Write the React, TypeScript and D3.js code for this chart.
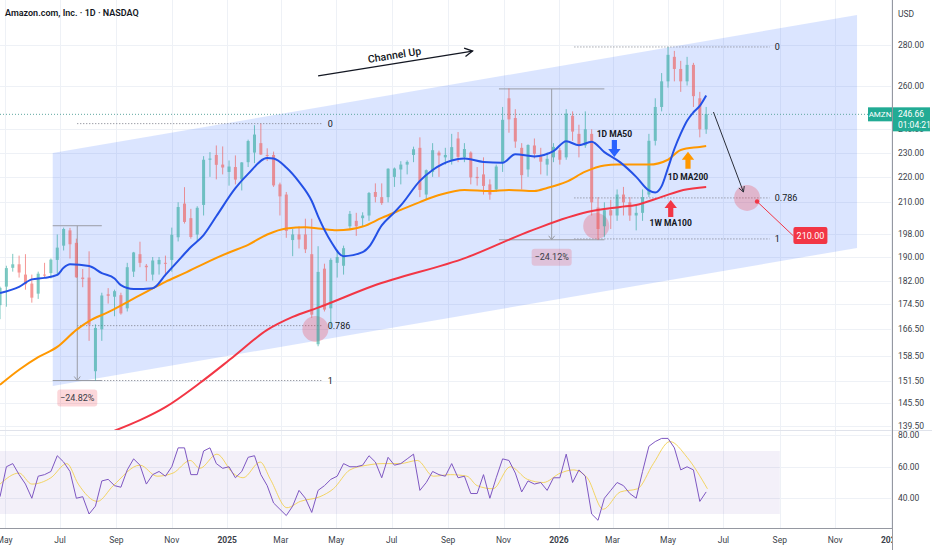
import React, { useEffect, useRef } from 'react';
import * as d3 from 'd3';

const FONT = 'Roboto, "Noto Sans", sans-serif';

// weekly candles, first week ends 2024-04-26
const firstWeek = '2024-04-26';
const opens = [
  174, 180, 186.3, 187.5, 184, 181, 177.7, 184, 184.5, 189,
  194, 199.5, 195, 183, 183, 154.2, 166.5, 177.5, 176.7, 177.2,
  173, 185, 191, 187, 184, 187.5, 188, 189, 197, 209.5,
  204, 198, 209, 227, 229, 225, 222, 224, 219, 226,
  230, 234, 229, 229, 217, 213, 196, 198, 198, 191,
  162, 186, 173, 188, 187, 201, 203, 204, 205, 214,
  212, 212, 220, 223, 225, 229, 232, 213, 222, 230,
  228, 227, 236, 228, 230, 220, 221, 217, 215, 226,
  254, 245, 232, 223, 233, 229, 225, 228, 231, 228,
  246, 238, 233, 238, 208, 201, 207, 205, 213, 210,
  205, 206, 213, 235, 250, 262, 274, 268, 262, 270,
  254, 240,
];
const highs = [
  180, 187, 191.1, 190.5, 191, 184, 185, 188, 189.5, 198,
  200.5, 200.4, 196.5, 185.9, 192, 168, 178, 179.5, 179, 178,
  188, 191.8, 195.4, 187.6, 190, 190, 190.5, 200.5, 210, 215.9,
  207.5, 208.5, 228.5, 230.2, 233, 232.6, 226.7, 228.8, 226, 235.5,
  241.8, 242.5, 231.8, 230.4, 217.7, 214, 200, 201, 203.8, 203.8,
  193.8, 187.7, 189.6, 192.5, 194, 206.7, 206, 206.2, 214, 217.4,
  217.4, 223.5, 223.8, 226.4, 226.7, 232.5, 236.5, 223, 234, 230.8,
  232, 238, 238.8, 234, 230.5, 224, 228, 219, 225, 250,
  258.6, 249, 234, 233.5, 236, 232, 230, 234, 232, 249,
  248, 242, 248, 240, 212, 210, 211, 215, 216, 212,
  209, 215, 238, 254, 266, 279, 277, 272, 274, 271,
  257, 250,
];
const lows = [
  169.6, 173.5, 185, 183, 179, 174.8, 176, 183, 182.7, 183.7,
  192.3, 189.5, 182.9, 179.8, 163, 151.6, 163, 174.5, 170.5, 171,
  172, 183.2, 186.5, 181.8, 182, 184, 183.5, 185, 195.5, 202,
  196.5, 195.5, 205, 220, 219, 221, 216.5, 217, 214.6, 224,
  225.6, 229, 226.5, 216, 205, 196.8, 190.3, 193, 191.4, 170,
  161.4, 172, 167, 183, 184, 200, 197.5, 201, 203, 210,
  209, 210, 216, 217, 221, 226, 212, 211, 220, 220,
  225, 225, 226, 226, 217, 216.5, 213, 211, 214, 222,
  238.5, 232, 215, 220, 227.5, 221, 220.5, 226, 225, 227,
  235, 228, 232, 205, 196, 197, 200, 203, 205, 203,
  199.5, 203, 212, 233, 248, 259, 262, 257, 260, 250,
  236.5, 238,
];
const closes = [
  179.6, 186.2, 187.5, 184.7, 180.8, 176.4, 184.3, 183.7, 189.1, 193.3,
  200, 194.5, 183.1, 182.5, 167.9, 166.9, 177.1, 177, 178.5, 171.4,
  186.5, 191.6, 188, 186.5, 188.8, 189, 187.8, 197.9, 208.2, 202.6,
  197.1, 207.9, 227, 227.5, 224.9, 223.8, 224.2, 218.9, 225.9, 234.9,
  237.7, 229.2, 228.7, 216.6, 212.3, 199.3, 198, 196.2, 192.7, 171,
  184.9, 172.6, 189, 190, 193.1, 205.6, 201, 205, 213.6, 212.1,
  209.7, 223.3, 223.4, 225, 226.1, 231.4, 214.8, 222.7, 231, 228.8,
  229, 232.3, 228.2, 231.5, 219.8, 219.5, 216.4, 213, 224.2, 244.2,
  244.4, 234.7, 220.7, 233.2, 229.5, 226.2, 227.4, 232.4, 227, 247,
  239, 233, 240, 210, 200, 207, 205, 213, 210, 205,
  206, 212, 235, 250, 262, 275, 268, 262, 270, 255,
  240, 246.66,
];
const lastPrice = 246.66;

// moving averages: [week index, price]
const ma50: [number, number][] = [
  [0, 177.9], [3, 179.9], [5, 182.4], [7, 182.9], [9, 183.9], [10, 186.3], [11, 187.5], [14, 186.9],
  [16, 184.5], [18, 182.7], [19, 180.5], [21, 179.2], [24, 179.5], [26, 183.9], [28, 188.7], [30, 193.5],
  [32, 197.8], [34, 204.7], [37, 215.5], [39, 221.2], [42, 227.7], [43, 227.5], [45, 223.8], [47, 218],
  [49, 210.5], [50, 204.7], [52, 195.6], [54, 190.3], [57, 191.7], [58, 193.6], [60, 201.3], [62, 206.2],
  [63, 208.8], [66, 218.4], [68, 222.8], [71, 226.7], [73, 227.5], [76, 226.1], [79, 225.8], [81, 229.3],
  [84, 228.4], [87, 230.6], [89, 234.8], [91, 233.1], [93, 234.6], [95, 230.2], [97.5, 225.9], [100, 220],
  [102, 214.6], [103, 213.8], [104, 216.3], [105, 223.6], [106, 231.5], [107, 238.1], [108, 243.8],
  [109, 247.6], [110, 250.5], [111, 255.3],
];
const ma200: [number, number][] = [
  [0, 150.4], [3, 154.6], [6, 158.2], [9, 161.2], [12, 166.3], [14, 169], [17, 171.8], [20, 175],
  [23, 178.3], [26, 181.6], [29, 184.5], [33, 188.7], [36, 191.6], [39, 194.3], [42, 198], [45, 200.2],
  [48, 200.6], [50, 200.2], [53, 199.5], [57, 200.9], [60, 204.1], [63, 207.1], [66, 210.1], [69, 212.8],
  [73, 214.8], [77, 214.4], [80, 214.8], [84, 214.4], [86, 215.6], [89, 218], [92, 222.1], [95, 224.6],
  [97, 225], [102, 225], [105, 227], [107, 231.1], [110, 232.4], [111, 232.8],
];
const ma100w: [number, number][] = [
  [18, 138.3], [22, 141], [26, 144.4], [31.4, 150.9], [36.6, 158.2], [42, 166.3], [46, 170.3], [50, 173.2],
  [58.6, 180.2], [73.4, 189.9], [83.8, 199.7], [92.3, 206.3], [97.5, 208.2], [100, 209], [104, 212.1],
  [107.4, 214.8], [111, 216],
];

// RSI (weekly readings) and its moving average
const rsiValues = [
  41, 60, 62, 55, 49, 40, 54, 55, 57, 67,
  63, 57, 40, 41, 30, 35, 51, 52, 48, 47,
  58, 65, 61, 49, 55, 57, 54, 60, 72, 72,
  55, 55, 70, 72, 62, 59, 60, 53, 57, 66,
  67, 55, 48, 37, 33, 29, 35, 45, 40, 31,
  45, 48, 52, 54, 62, 60, 60, 61, 67, 63,
  53, 66, 61, 62, 65, 68, 45, 50, 57, 55,
  54, 62, 53, 54, 43, 43, 55, 40, 53, 65,
  64, 56, 44, 51, 49, 50, 45, 53, 53, 68,
  50, 58, 54, 30, 26, 40, 45, 50, 48, 43,
  40, 57, 73, 76, 78, 78, 72, 58, 60, 58,
  38, 44,
];
const rsiMa: [number, number][] = [
  [0, 49], [3, 56], [5, 49], [8, 53], [10.5, 62], [12.3, 49], [15.3, 38], [17.8, 48], [22, 61],
  [24.7, 54], [27.2, 56], [29.9, 64], [31.4, 59], [34.1, 68], [36.6, 56], [38.2, 53], [40.9, 63],
  [42.5, 52], [45.1, 34], [47.2, 38], [50.3, 41], [52.4, 46], [55, 58], [57.7, 61], [60.2, 62],
  [62.9, 62], [65.6, 64], [68.1, 54], [70.8, 55], [73.4, 54], [75, 48], [77.5, 46], [80.2, 60],
  [82.9, 52], [85.4, 50], [88.1, 56], [90.1, 58], [92.3, 53], [94.8, 33], [97.5, 44], [100.2, 46],
  [102.7, 62], [105.3, 76], [108, 66], [111.2, 46],
];

const priceTicks = [280, 260, 240, 230, 220, 210, 198, 190, 182, 174.5, 166.5, 158.5, 151.5, 145.5, 139.5];
const rsiTicks = [80, 60, 40];
const monthTicks: [string, string][] = [
  ['2024-05-01', 'May'], ['2024-07-01', 'Jul'], ['2024-09-01', 'Sep'], ['2024-11-01', 'Nov'],
  ['2025-01-01', '2025'], ['2025-03-01', 'Mar'], ['2025-05-01', 'May'], ['2025-07-01', 'Jul'],
  ['2025-09-01', 'Sep'], ['2025-11-01', 'Nov'], ['2026-01-01', '2026'], ['2026-03-01', 'Mar'],
  ['2026-05-01', 'May'], ['2026-07-01', 'Jul'], ['2026-09-01', 'Sep'], ['2026-11-01', 'Nov'],
  ['2027-01-01', '2027'],
];

// drawings
const channelDates = ['2024-06-23', '2026-11-25'];
const channelUpper = [229.8, 295.8];
const channelLower = [150.1, 193.2];
const fib1Dates = ['2024-07-20', '2025-04-16'];
const fib1Prices = [242.5, 167.6, 151.6];
const fib2Dates = ['2026-01-18', '2026-08-21'];
const fib2Prices = [279, 211.7, 196.4];
const fibLabels = ['0', '0.786', '1'];
const measures = [
  { from: '2024-06-23', mid: '2024-07-20', to: '2024-08-16', top: 201.2, bottom: 151.6, label: '−24.82%' },
  { from: '2025-10-27', mid: '2025-12-24', to: '2026-02-20', top: 258.4, bottom: 196.1, label: '−24.12%' },
];
const circleDates = ['2025-04-08', '2026-02-11', '2026-07-27'];
const circlePrices = [166.6, 201.1, 211.7];
const channelArrow: [string, number][] = [['2025-04-11', 264.6], ['2025-09-28', 276.9]];
const channelText: [string, number] = ['2025-07-04', 274.9];
const projArrow: [string, number][] = [['2026-06-20', 247.7], ['2026-07-23', 214.0]];
const targetLine: [string, number][] = [['2026-08-07', 210.3], ['2026-09-16', 197.5]];
const targetLabel = '210.00';
const maLabels = [
  { text: '1D MA50', date: '2026-03-03', price: 237.9, tip: 228.1, dir: 1, color: '#2962ff' },
  { text: '1D MA200', date: '2026-05-23', price: 220.0, tip: 230.3, dir: -1, color: '#ff9800' },
  { text: '1W MA100', date: '2026-05-04', price: 202.2, tip: 210.9, dir: -1, color: '#f23645' },
];

const W = 932;
const H = 550;
const AXIS_X = 892;
const PRICE_BOTTOM = 430;
const RSI_BOTTOM = 528;

export default function App() {
  const ref = useRef<SVGSVGElement>(null);

  useEffect(() => {
    if (!ref.current) return;
    const svg = d3.select(ref.current);
    svg.selectAll('*').remove();

    const x = d3.scaleUtc()
      .domain([new Date('2024-07-01'), new Date('2026-05-01')])
      .range([60, 668]);
    const y = d3.scaleLog().domain([139.5, 280]).range([426, 45]);
    const r = d3.scaleLinear().domain([30, 70]).range([514, 451]);

    const start = new Date(firstWeek).getTime();
    const wx = (i: number) => x(new Date(start + i * 7 * 864e5));
    const dx = (s: string) => x(new Date(s));

    const defs = svg.append('defs');
    defs.append('clipPath').attr('id', 'clipPrice')
      .append('rect').attr('x', 0).attr('y', 0).attr('width', AXIS_X).attr('height', PRICE_BOTTOM);
    defs.append('clipPath').attr('id', 'clipRsi')
      .append('rect').attr('x', 0).attr('y', PRICE_BOTTOM + 1).attr('width', AXIS_X).attr('height', RSI_BOTTOM - PRICE_BOTTOM - 1);
    defs.append('clipPath').attr('id', 'clipTime')
      .append('rect').attr('x', 0).attr('y', RSI_BOTTOM).attr('width', AXIS_X).attr('height', H - RSI_BOTTOM);

    svg.append('rect').attr('width', W).attr('height', H).attr('fill', '#ffffff');

    // grid
    const grid = svg.append('g').attr('stroke', '#eef1f6').attr('stroke-width', 1);
    monthTicks.forEach(([d]) => {
      const gx = Math.round(dx(d)) + 0.5;
      if (gx < AXIS_X) grid.append('line').attr('x1', gx).attr('x2', gx).attr('y1', 0).attr('y2', RSI_BOTTOM);
    });
    priceTicks.forEach(p => {
      const gy = Math.round(y(p)) + 0.5;
      grid.append('line').attr('x1', 0).attr('x2', AXIS_X).attr('y1', gy).attr('y2', gy);
    });
    rsiTicks.forEach(v => {
      const gy = Math.round(r(v)) + 0.5;
      grid.append('line').attr('x1', 0).attr('x2', AXIS_X).attr('y1', gy).attr('y2', gy);
    });

    const price = svg.append('g').attr('clip-path', 'url(#clipPrice)');

    // channel
    const chPts = [
      [dx(channelDates[0]), y(channelUpper[0])],
      [dx(channelDates[1]), y(channelUpper[1])],
      [dx(channelDates[1]), y(channelLower[1])],
      [dx(channelDates[0]), y(channelLower[0])],
    ];
    price.append('polygon')
      .attr('points', chPts.map(p => p.join(',')).join(' '))
      .attr('fill', '#2962ff').attr('fill-opacity', 0.17);

    // current price line
    price.append('line')
      .attr('x1', 0).attr('x2', AXIS_X)
      .attr('y1', y(lastPrice)).attr('y2', y(lastPrice))
      .attr('stroke', '#5fa8a0').attr('stroke-dasharray', '1 2').attr('stroke-width', 1);

    // fib retracements
    const drawFib = (dates: string[], prices: number[]) => {
      const x1 = dx(dates[0]);
      const x2 = dx(dates[1]);
      prices.forEach((p, i) => {
        price.append('line')
          .attr('x1', x1).attr('x2', x2).attr('y1', y(p)).attr('y2', y(p))
          .attr('stroke', '#787b86').attr('stroke-dasharray', '1 2').attr('stroke-width', 1);
        price.append('text')
          .attr('x', x2 + 5).attr('y', y(p)).attr('dy', '0.35em')
          .attr('font-family', FONT).attr('font-size', 9).attr('fill', '#131722')
          .text(fibLabels[i]);
      });
    };
    drawFib(fib1Dates, fib1Prices);
    drawFib(fib2Dates, fib2Prices);

    // measures
    measures.forEach(m => {
      const x1 = dx(m.from);
      const x2 = dx(m.to);
      const xm = dx(m.mid);
      const yt = y(m.top);
      const yb = y(m.bottom);
      const g = price.append('g').attr('stroke', '#9a9da6').attr('stroke-width', 1).attr('fill', 'none');
      g.append('line').attr('x1', x1).attr('x2', x2).attr('y1', yt).attr('y2', yt);
      g.append('line').attr('x1', x1).attr('x2', x2).attr('y1', yb).attr('y2', yb);
      g.append('line').attr('x1', xm).attr('x2', xm).attr('y1', yt).attr('y2', yb);
      g.append('path').attr('d', `M${xm - 3},${yb - 4}L${xm},${yb}L${xm + 3},${yb - 4}`);
      price.append('rect')
        .attr('x', xm - 20).attr('y', yb + 9).attr('width', 40).attr('height', 17).attr('rx', 3)
        .attr('fill', '#f23645').attr('fill-opacity', 0.2);
      price.append('text')
        .attr('x', xm).attr('y', yb + 17.5).attr('dy', '0.35em').attr('text-anchor', 'middle')
        .attr('font-family', FONT).attr('font-size', 9).attr('fill', '#3a3d47')
        .text(m.label);
    });

    // circles
    circleDates.forEach((d, i) => {
      price.append('circle')
        .attr('cx', dx(d)).attr('cy', y(circlePrices[i])).attr('r', 13)
        .attr('fill', '#f23645').attr('fill-opacity', 0.27);
    });

    // candles
    const candles = price.append('g');
    closes.forEach((c, i) => {
      const o = opens[i];
      const cx = wx(i);
      const col = c >= o ? '#26a69a' : '#ef5350';
      const g = candles.append('g').attr('opacity', 0.6);
      g.append('line')
        .attr('x1', cx).attr('x2', cx).attr('y1', y(highs[i])).attr('y2', y(lows[i]))
        .attr('stroke', col).attr('stroke-width', 1);
      const top = y(Math.max(o, c));
      const bot = y(Math.min(o, c));
      g.append('rect')
        .attr('x', cx - 1.5).attr('y', top).attr('width', 3).attr('height', Math.max(1, bot - top))
        .attr('fill', col);
    });

    // moving averages
    const maLine = d3.line<[number, number]>()
      .x(d => wx(d[0]))
      .y(d => y(d[1]))
      .curve(d3.curveMonotoneX);
    [[ma200, '#ff9800'], [ma100w, '#f23645'], [ma50, '#2451e6']].forEach(([pts, col]) => {
      price.append('path')
        .datum(pts as [number, number][])
        .attr('fill', 'none').attr('stroke', col as string).attr('stroke-width', 2)
        .attr('d', maLine);
    });

    // channel up arrow + text
    const chevron = (g: d3.Selection<SVGGElement, unknown, null, undefined>, p0: number[], p1: number[], len: number) => {
      const a = Math.atan2(p1[1] - p0[1], p1[0] - p0[0]);
      const s = 0.5;
      g.append('path')
        .attr('d', `M${p1[0] - len * Math.cos(a - s)},${p1[1] - len * Math.sin(a - s)}L${p1[0]},${p1[1]}L${p1[0] - len * Math.cos(a + s)},${p1[1] - len * Math.sin(a + s)}`)
        .attr('fill', 'none');
    };
    const ca0 = [dx(channelArrow[0][0]), y(channelArrow[0][1])];
    const ca1 = [dx(channelArrow[1][0]), y(channelArrow[1][1])];
    const ag = price.append('g').attr('stroke', '#131722').attr('stroke-width', 1.3);
    ag.append('line').attr('x1', ca0[0]).attr('y1', ca0[1]).attr('x2', ca1[0]).attr('y2', ca1[1]);
    chevron(ag, ca0, ca1, 9);
    const angle = Math.atan2(ca1[1] - ca0[1], ca1[0] - ca0[0]) * 180 / Math.PI;
    const tx = dx(channelText[0]);
    const ty = y(channelText[1]);
    price.append('text')
      .attr('transform', `translate(${tx},${ty}) rotate(${angle})`)
      .attr('text-anchor', 'middle').attr('dy', '0.35em')
      .attr('font-family', FONT).attr('font-size', 10.5).attr('font-weight', 500).attr('fill', '#131722')
      .text('Channel Up');

    // projection arrow
    const pa0 = [dx(projArrow[0][0]), y(projArrow[0][1])];
    const pa1 = [dx(projArrow[1][0]), y(projArrow[1][1])];
    const pg = price.append('g').attr('stroke', '#2a2e39').attr('stroke-width', 1);
    pg.append('line').attr('x1', pa0[0]).attr('y1', pa0[1]).attr('x2', pa1[0]).attr('y2', pa1[1]);
    chevron(pg, pa0, pa1, 6);

    // target line + label
    const t0 = [dx(targetLine[0][0]), y(targetLine[0][1])];
    const t1 = [dx(targetLine[1][0]), y(targetLine[1][1])];
    price.append('line')
      .attr('x1', t0[0]).attr('y1', t0[1]).attr('x2', t1[0]).attr('y2', t1[1])
      .attr('stroke', '#f23645').attr('stroke-width', 1);
    price.append('circle').attr('cx', t0[0]).attr('cy', t0[1]).attr('r', 2.2).attr('fill', '#f23645');
    price.append('rect')
      .attr('x', t1[0]).attr('y', t1[1] - 9).attr('width', 34).attr('height', 17).attr('rx', 2)
      .attr('fill', '#f23645');
    price.append('text')
      .attr('x', t1[0] + 17).attr('y', t1[1]).attr('dy', '0.35em').attr('text-anchor', 'middle')
      .attr('font-family', FONT).attr('font-size', 9).attr('fill', '#ffffff')
      .text(targetLabel);

    // MA labels with block arrows
    maLabels.forEach(l => {
      const lx = dx(l.date);
      const tipY = y(l.tip);
      const len = 17;
      const d = l.dir; // 1 = pointing down
      const pts = [
        [lx - 2.6, tipY - d * len], [lx + 2.6, tipY - d * len], [lx + 2.6, tipY - d * 8],
        [lx + 6.2, tipY - d * 8], [lx, tipY], [lx - 6.2, tipY - d * 8], [lx - 2.6, tipY - d * 8],
      ];
      price.append('polygon').attr('points', pts.map(p => p.join(',')).join(' ')).attr('fill', l.color);
      price.append('text')
        .attr('x', lx).attr('y', y(l.price)).attr('dy', '0.35em').attr('text-anchor', 'middle')
        .attr('font-family', FONT).attr('font-size', 8.5).attr('font-weight', 700).attr('fill', '#131722')
        .text(l.text);
    });

    // pane separator
    svg.append('line').attr('x1', 0).attr('x2', W).attr('y1', PRICE_BOTTOM + 0.5).attr('y2', PRICE_BOTTOM + 0.5)
      .attr('stroke', '#e0e3eb');

    // RSI pane
    const rsiG = svg.append('g').attr('clip-path', 'url(#clipRsi)');
    rsiG.append('rect')
      .attr('x', 0).attr('y', r(70)).attr('width', dx('2026-09-01')).attr('height', r(30) - r(70))
      .attr('fill', '#7e57c2').attr('fill-opacity', 0.09);
    const rsiLine = d3.line<number>().x((_, i) => wx(i)).y(v => r(v));
    rsiG.append('path').datum(rsiMa)
      .attr('fill', 'none').attr('stroke', '#f2cf4a').attr('stroke-opacity', 0.85).attr('stroke-width', 1)
      .attr('d', d3.line<[number, number]>().x(d => wx(d[0])).y(d => r(d[1])).curve(d3.curveMonotoneX));
    rsiG.append('path').datum(rsiValues)
      .attr('fill', 'none').attr('stroke', '#7e57c2').attr('stroke-width', 1)
      .attr('d', rsiLine);

    // axes lines
    svg.append('line').attr('x1', 0).attr('x2', AXIS_X).attr('y1', RSI_BOTTOM + 0.5).attr('y2', RSI_BOTTOM + 0.5)
      .attr('stroke', '#9598a1');
    svg.append('line').attr('x1', AXIS_X + 0.5).attr('x2', AXIS_X + 0.5).attr('y1', 0).attr('y2', H)
      .attr('stroke', '#9598a1');

    // price axis labels
    const fmt = d3.format('.2f');
    const axisText = svg.append('g')
      .attr('font-family', FONT).attr('font-size', 8.5).attr('fill', '#3b3f4a');
    priceTicks.forEach(p => {
      axisText.append('text').attr('x', AXIS_X + 6).attr('y', y(p)).attr('dy', '0.35em').text(fmt(p));
    });
    rsiTicks.forEach(v => {
      axisText.append('text').attr('x', AXIS_X + 6).attr('y', r(v)).attr('dy', '0.35em').text(fmt(v));
    });
    axisText.append('text').attr('x', AXIS_X + 6).attr('y', 14).attr('dy', '0.35em').text('USD');

    // time axis labels
    const timeG = svg.append('g').attr('clip-path', 'url(#clipTime)')
      .attr('font-family', FONT).attr('font-size', 8.5).attr('fill', '#3b3f4a').attr('text-anchor', 'middle');
    monthTicks.forEach(([d, lab]) => {
      timeG.append('text')
        .attr('x', dx(d)).attr('y', 540).attr('dy', '0.35em')
        .attr('font-weight', /^\d+$/.test(lab) ? 700 : 400)
        .text(lab);
    });

    // last price labels
    const ly = y(lastPrice);
    svg.append('rect').attr('x', 868).attr('y', ly - 7).attr('width', 24).attr('height', 14).attr('fill', '#22ab94');
    svg.append('text').attr('x', 880).attr('y', ly).attr('dy', '0.35em').attr('text-anchor', 'middle')
      .attr('font-family', FONT).attr('font-size', 8).attr('fill', '#ffffff').text('AMZN');
    svg.append('rect').attr('x', AXIS_X + 1).attr('y', ly - 7).attr('width', 37).attr('height', 24).attr('fill', '#22ab94');
    svg.append('text').attr('x', AXIS_X + 6).attr('y', ly).attr('dy', '0.35em')
      .attr('font-family', FONT).attr('font-size', 8.5).attr('fill', '#ffffff').text(fmt(lastPrice));
    svg.append('text').attr('x', AXIS_X + 6).attr('y', ly + 11).attr('dy', '0.35em')
      .attr('font-family', FONT).attr('font-size', 8.5).attr('fill', '#ffffff').text('01:04:21');

    // title
    svg.append('text').attr('x', 5).attr('y', 13).attr('dy', '0.35em')
      .attr('font-family', FONT).attr('font-size', 9).attr('font-weight', 600).attr('fill', '#131722')
      .text('Amazon.com, Inc. · 1D · NASDAQ');
  }, []);

  return (
    <svg ref={ref} width={W} height={H} style={{ position: 'absolute', left: 0, top: 0, display: 'block' }} />
  );
}
